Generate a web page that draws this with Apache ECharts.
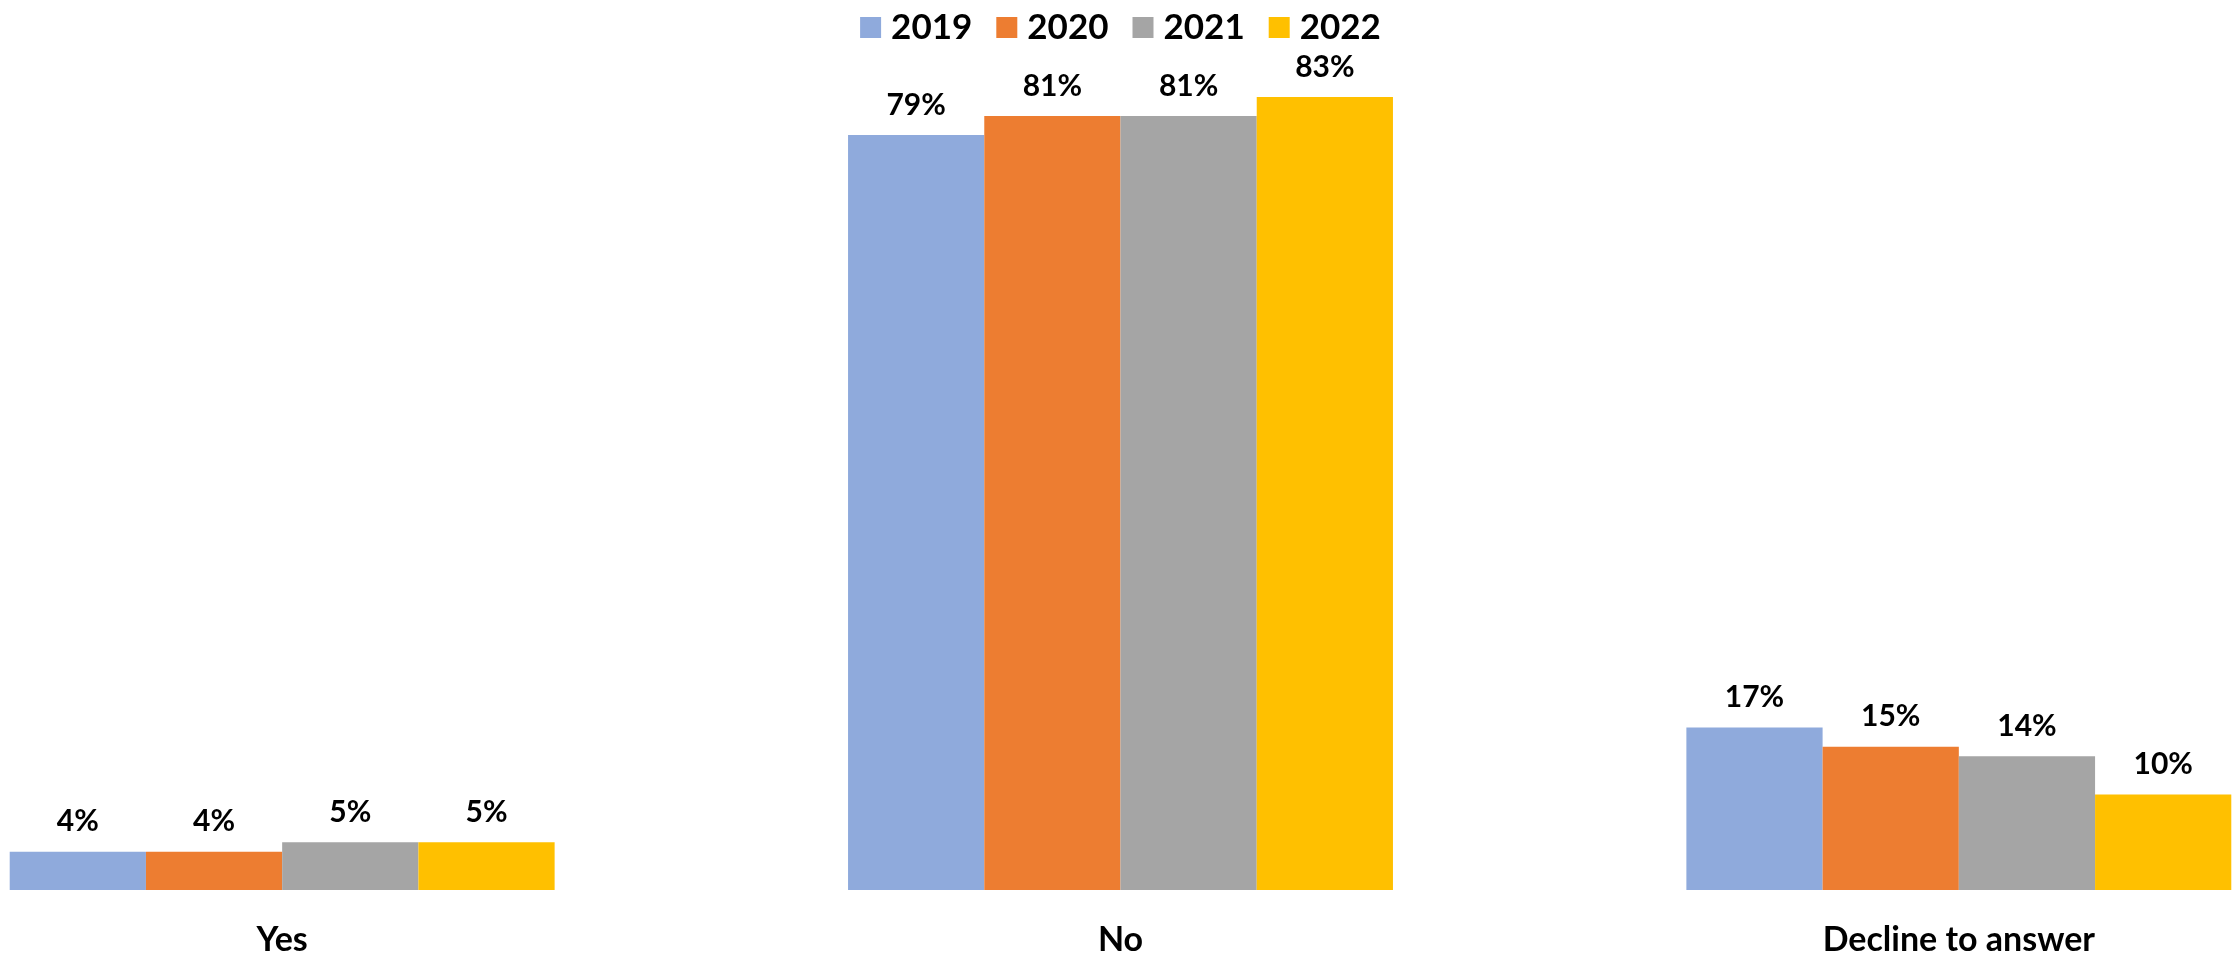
<!DOCTYPE html>
<html>
<head>
<meta charset="utf-8">
<script src="https://cdn.jsdelivr.net/npm/echarts@6/dist/echarts.min.js"></script>
<style>
  html, body { margin: 0; padding: 0; background: #fff; overflow: hidden; }
  /* plot is wider than the page, the outer groups are cut at the edges */
  #chart { width: 2515px; height: 957px; margin-left: -137px; }
</style>
</head>
<body>
<div id="chart"></div>
<script>
// answers per category, one array per year (percent)
const categories = ['Yes', 'No', 'Decline to answer']
const years = ['2019', '2020', '2021', '2022']
const values2019 = [4, 79, 17]
const values2020 = [4, 81, 15]
const values2021 = [5, 81, 14]
const values2022 = [5, 83, 10]
const colors = ['#8FAADC', '#ED7D31', '#A5A5A5', '#FFC000']

const seriesData = [values2019, values2020, values2021, values2022]
const font = 'Lato, "Open Sans", sans-serif'

const chart = echarts.init(document.getElementById('chart'))
chart.setOption({
  animation: false,
  backgroundColor: '#fff',
  legend: {
    top: 5,
    left: 'center',
    itemWidth: 21,
    itemHeight: 21,
    itemGap: 24,
    icon: 'rect',
    textStyle: {
      fontFamily: font,
      fontWeight: 'bold',
      fontSize: 35,
      color: '#000',
      padding: [0, 0, 0, 5]
    },
    data: years
  },
  grid: {
    left: 0,
    right: 0,
    top: 30,
    bottom: 67,
    containLabel: false,
    outerBoundsMode: 'none'
  },
  xAxis: {
    type: 'category',
    data: categories,
    axisTick: { show: false },
    axisLine: { show: false },
    axisLabel: {
      margin: 33,
      fontFamily: font,
      fontWeight: 'bold',
      fontSize: 34,
      color: '#000'
    }
  },
  yAxis: {
    type: 'value',
    min: 0,
    max: 90,
    show: false,
    splitLine: { show: false }
  },
  series: seriesData.map((d, i) => ({
    name: years[i],
    type: 'bar',
    data: d,
    barGap: '0%',
    barCategoryGap: '35%',
    itemStyle: { color: colors[i] },
    label: {
      show: true,
      position: 'top',
      distance: 15,
      formatter: '{c}%',
      fontFamily: font,
      fontWeight: 'bold',
      fontSize: 30,
      color: '#000'
    }
  }))
})
</script>
</body>
</html>
